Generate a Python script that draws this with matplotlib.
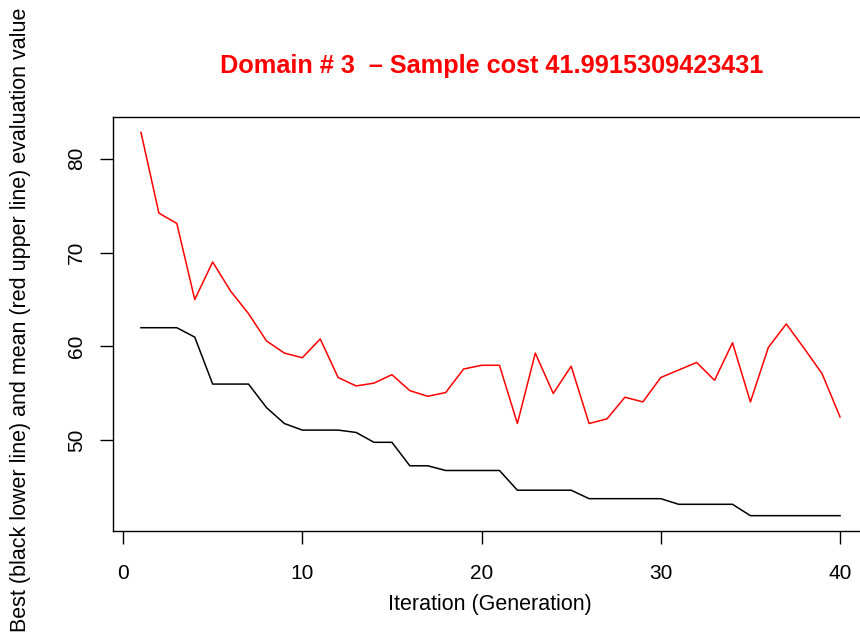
import matplotlib
matplotlib.use("Agg")
import matplotlib.pyplot as plt

plt.rcParams["font.family"] = ["Liberation Sans", "DejaVu Sans"]

# Generation index
ITER = list(range(1, 41))

# Mean evaluation value per generation (red upper line)
MEAN = [82.8, 74.2, 73.1, 65.0, 69.0, 65.9, 63.5, 60.6, 59.3, 58.8,
        60.8, 56.7, 55.8, 56.1, 57.0, 55.3, 54.7, 55.1, 57.6, 58.0,
        58.0, 51.8, 59.3, 55.0, 57.9, 51.8, 52.3, 54.6, 54.1, 56.7,
        57.5, 58.3, 56.4, 60.4, 54.1, 59.9, 62.4, 59.8, 57.1, 52.5]

# Best evaluation value per generation (black lower line)
BEST = [62.0, 62.0, 62.0, 61.0, 56.0, 56.0, 56.0, 53.5, 51.8, 51.1,
        51.1, 51.1, 50.85, 49.8, 49.8, 47.3, 47.3, 46.8, 46.8, 46.8,
        46.8, 44.7, 44.7, 44.7, 44.7, 43.8, 43.8, 43.8, 43.8, 43.8,
        43.2, 43.2, 43.2, 43.2, 41.99, 41.99, 41.99, 41.99, 41.99, 41.99]

XTICKS = [0, 10, 20, 30, 40]
YTICKS = [50, 60, 70, 80]

W, H = 860, 641
fig = plt.figure(figsize=(W / 100, H / 100), dpi=100)
# plot region in pixels: left 113, right 868 (cropped off the image), top 117, bottom 531
ax = fig.add_axes([113 / W, 1 - 531 / H, (868 - 113) / W, (531 - 117) / H])

ax.plot(ITER, BEST, color="black", lw=1.1)
ax.plot(ITER, MEAN, color="#ff0000", lw=1.1)

# R style 4% padding
ax.set_xlim(1 - 0.04 * 39, 40 + 0.04 * 39)
lo, hi = min(BEST), max(MEAN)
pad = 0.04 * (hi - lo)
ax.set_ylim(lo - pad, hi + pad)

ax.set_xticks(XTICKS)
ax.set_yticks(YTICKS)
ax.set_yticklabels([str(v) for v in YTICKS], rotation=90, va="center")
ax.tick_params(axis="both", direction="out", length=9.5, width=1,
               labelsize=15, colors="black")
ax.tick_params(axis="x", pad=14)
ax.tick_params(axis="y", pad=10)
for s in ax.spines.values():
    s.set_linewidth(1)
    s.set_color("black")

fig.text(490 / W, 1 - 610 / H, "Iteration (Generation)",
         ha="center", va="baseline", fontsize=15.5)
fig.text(31.5 / W, 1 - 320 / H,
         "Best (black lower line) and mean (red upper line) evaluation value",
         rotation=90, ha="right", va="center", fontsize=15.5)

fig.text(491.5 / W, 1 - 73 / H,
         "Domain # 3  \u2013 Sample cost 41.9915309423431",
         ha="center", va="baseline", fontsize=18.2, fontweight="bold",
         color="#ff0000")

fig.savefig("out.png", dpi=100, facecolor="white")
